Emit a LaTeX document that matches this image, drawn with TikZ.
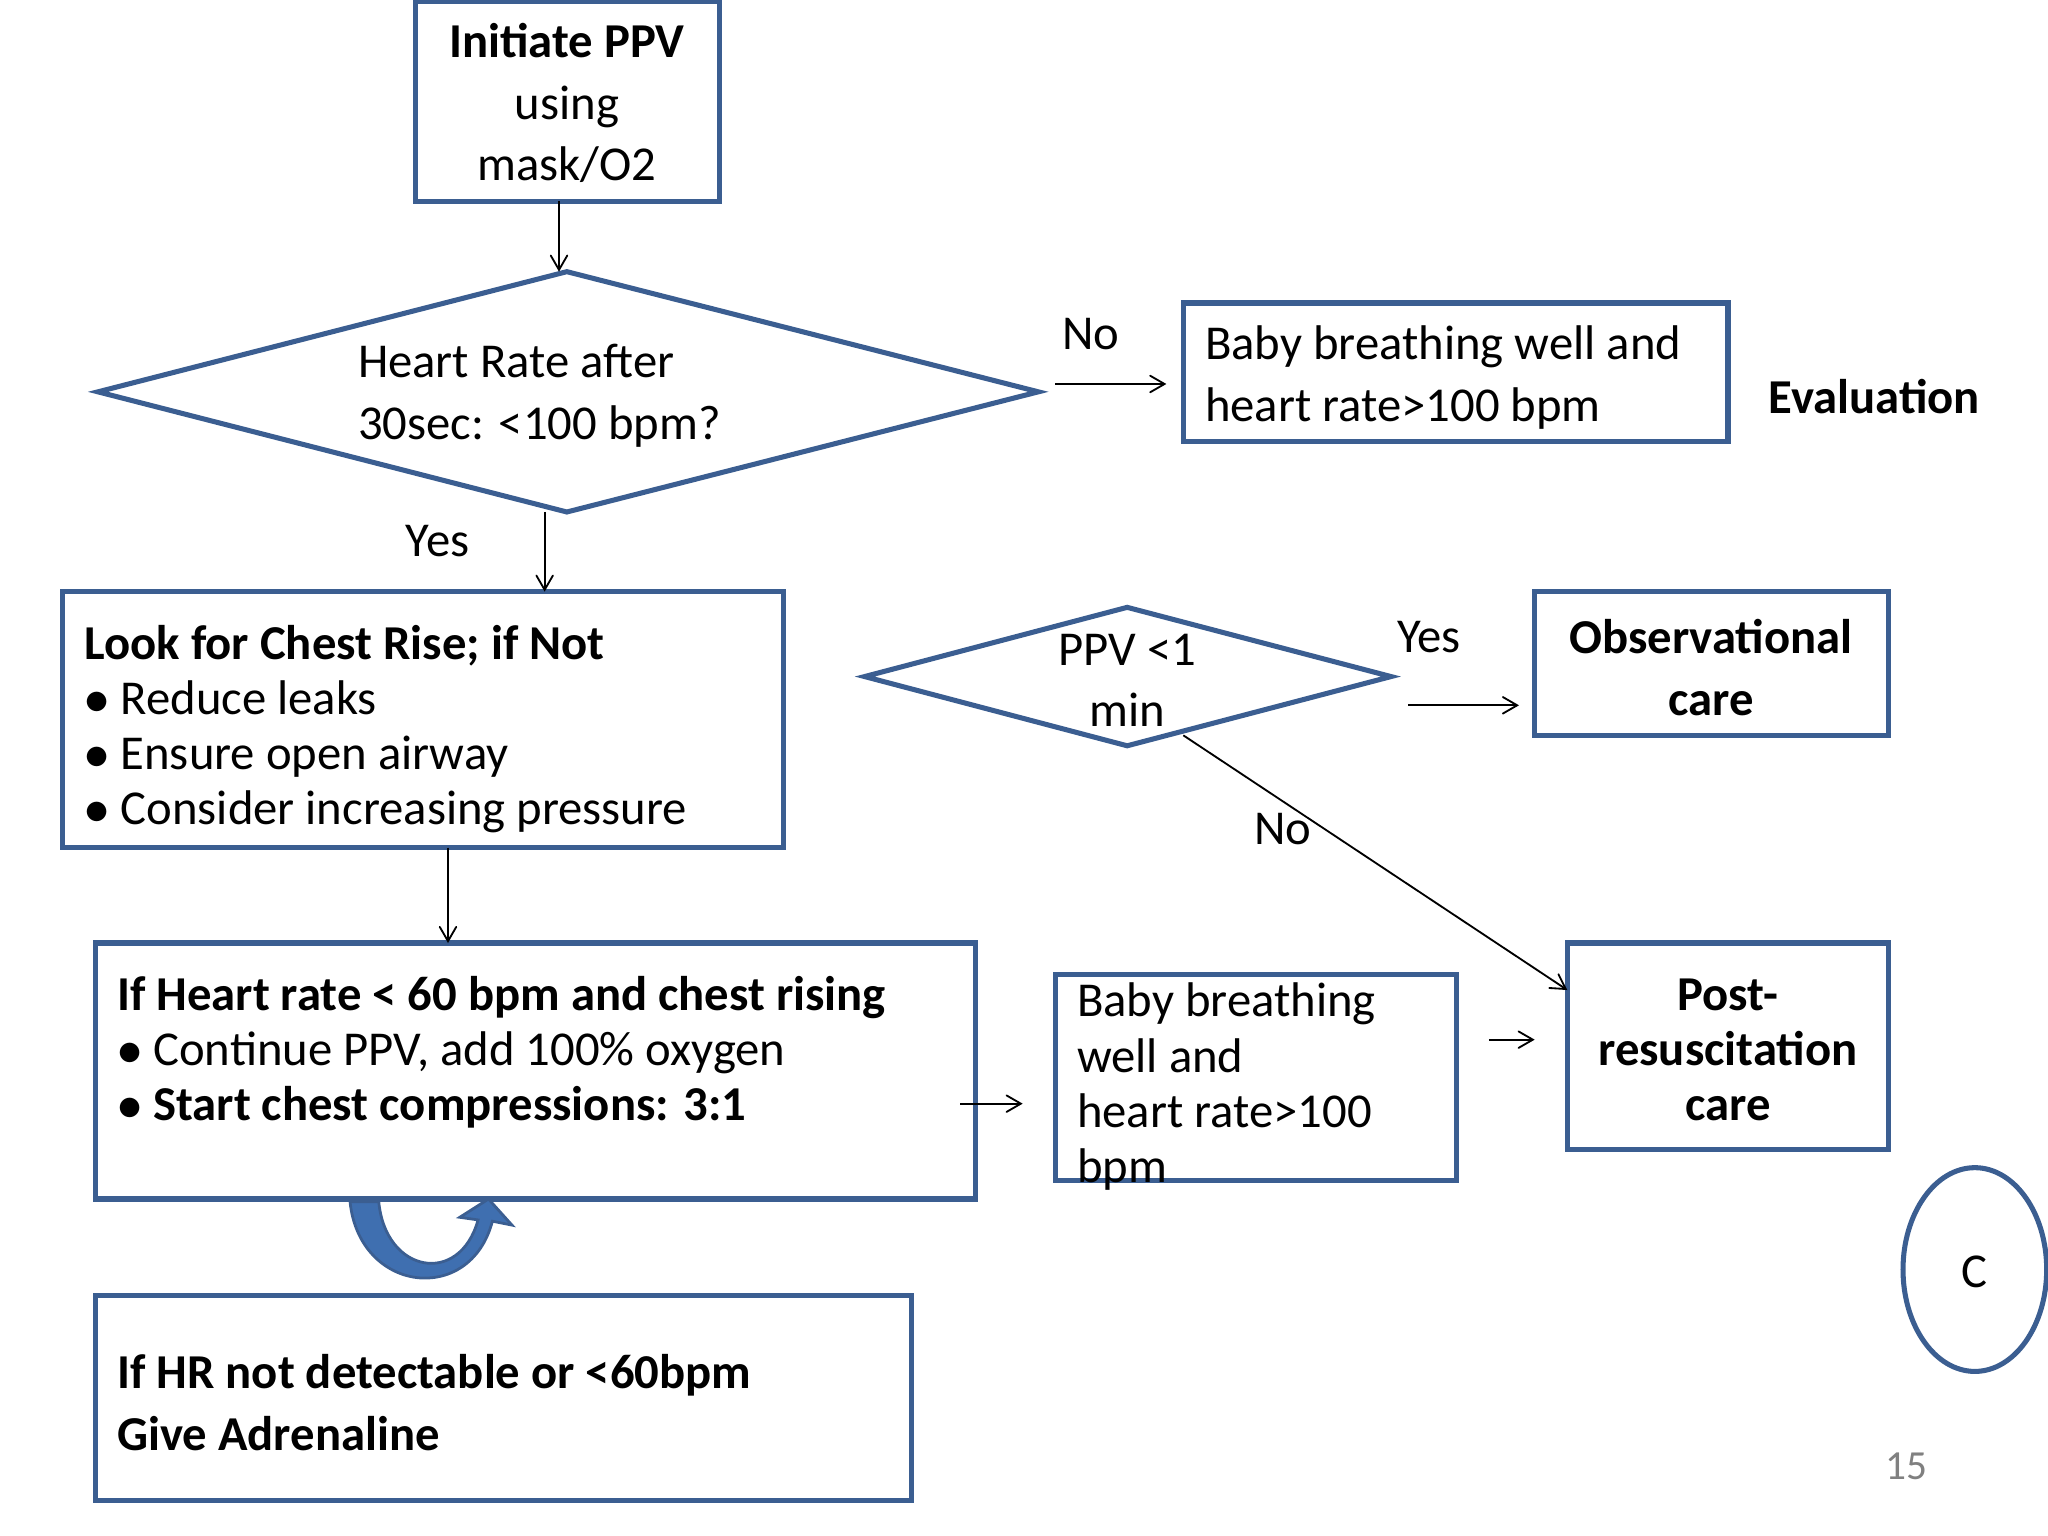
\documentclass[tikz,border=0pt]{standalone}
\usepackage{fontspec}
\setmainfont{Carlito}
\usetikzlibrary{arrows,calc,positioning,shapes.geometric}
\definecolor{boxblue}{HTML}{3B5E91}
\definecolor{arrblue}{HTML}{3F6FB0}
\newcommand{\bigtxt}{\fontsize{10.6}{12}\selectfont}
\newcommand{\widetxt}{\fontsize{10.6}{13.4}\selectfont}
\tikzset{
  box/.style={draw=boxblue,line width=1.1pt,inner sep=0pt},
  txt/.style={inner sep=0pt,font=\bigtxt},
  lbl/.style={inner sep=0pt,font=\bigtxt},
  conn/.style={->,>=angle 60,thin,black}
}
\begin{document}
\begin{tikzpicture}[x=0.01cm,y=-0.01cm]
\useasboundingbox (0,0) rectangle (1568,1176);
% boxes
\draw[box] (318,1) rectangle (551,154);
\node[txt,align=center,font=\widetxt] (init) at (434,79) {\textbf{Initiate PPV}\\using\\mask/O2};
\draw[box] (75,300) -- (434,208) -- (795,300) -- (434,392) -- cycle;
\node[txt,align=left,font=\widetxt] (hr) at (413,303) {Heart Rate after\\30sec: <100 bpm?};
\coordinate (dtop) at (428,208);
\coordinate (itop) at (428,154);
\draw[box] (906,232) rectangle (1323,338);
\node[txt,align=left,anchor=west,font=\widetxt] (baby1) at (922,289) {Baby breathing well and\\heart rate>100 bpm};
\node[txt,font=\bigtxt\bfseries] (eval) at (1435,304) {Evaluation};
\draw[box] (48,453) rectangle (600,649);
\node[txt,align=left,anchor=north west] (look) at (64,478) {\textbf{Look for Chest Rise; if Not}\\$\bullet$ Reduce leaks\\$\bullet$ Ensure open airway\\$\bullet$ Consider increasing pressure};
\draw[box] (662,518) -- (863,465) -- (1065,518) -- (863,571) -- cycle;
\node[txt,align=center,font=\widetxt] (ppv) at (863,521) {PPV <1\\min};
\draw[box] (1175,453) rectangle (1446,563);
\node[txt,align=center,font=\widetxt\bfseries] (obs) at (1310,511) {Observational\\care};
\draw[box] (1200,722) rectangle (1446,880);
\node[txt,align=center,font=\bigtxt\bfseries] (post) at (1323,804) {Post-\\resuscitation\\care};
\draw[box] (73,722) rectangle (747,918);
\node[txt,align=left,anchor=north west] (hrlow) at (89,747) {\textbf{If Heart rate < 60 bpm and chest rising}\\$\bullet$ Continue PPV, add 100\% oxygen\\$\bullet$ \textbf{Start chest compressions: 3:1}};
\draw[box] (808,746) rectangle (1115,904);
\node[txt,align=left,anchor=north west] (baby2) at (824,752) {Baby breathing\\well and\\heart rate>100\\bpm};
\draw[box] (73,992) rectangle (698,1149);
\node[txt,align=left,anchor=west,font=\widetxt\bfseries] (adr) at (89,1074) {If HR not detectable or <60bpm\\Give Adrenaline};
\draw[box] (1512,972) ellipse [x radius=55,y radius=78];
\node[txt] (circ) at (1512,974) {C};
\node[inner sep=0pt,text=gray,font=\small] (pg) at (1460,1123) {15};
% labels
\node[lbl] (no1) at (835,256) {No};
\node[lbl] (yes1) at (335,414) {Yes};
\node[lbl] (yes2) at (1094,488) {Yes};
\node[lbl] (no2) at (982,635) {No};
% connectors
\draw[conn] (itop) -- (dtop);
\coordinate (a1) at (808,294); \coordinate (b1) at (893,294);
\draw[conn] (a1) -- (b1);
\coordinate (a2) at (417,392); \coordinate (b2) at (417,453);
\draw[conn] (a2) -- (b2);
\coordinate (a3) at (1078,540); \coordinate (b3) at (1163,540);
\draw[conn] (a3) -- (b3);
\coordinate (a4) at (906,563); \coordinate (b4) at (1200,758);
\draw[conn] (a4) -- (b4);
\coordinate (a5) at (343,649); \coordinate (b5) at (343,722);
\draw[conn] (a5) -- (b5);
\coordinate (a6) at (735,845); \coordinate (b6) at (783,845);
\draw[conn] (a6) -- (b6);
\coordinate (a7) at (1140,796); \coordinate (b7) at (1175,796);
\draw[conn] (a7) -- (b7);
% curved arrow
\draw[fill=arrblue,draw=boxblue,line width=0.6pt]
  (268,920) .. controls (275,990) and (360,1000) .. (377,935)
  -- (392,938) -- (374,918) -- (352,932) -- (366,934)
  .. controls (352,985) and (295,975) .. (290,920) -- cycle;
\end{tikzpicture}
\end{document}
